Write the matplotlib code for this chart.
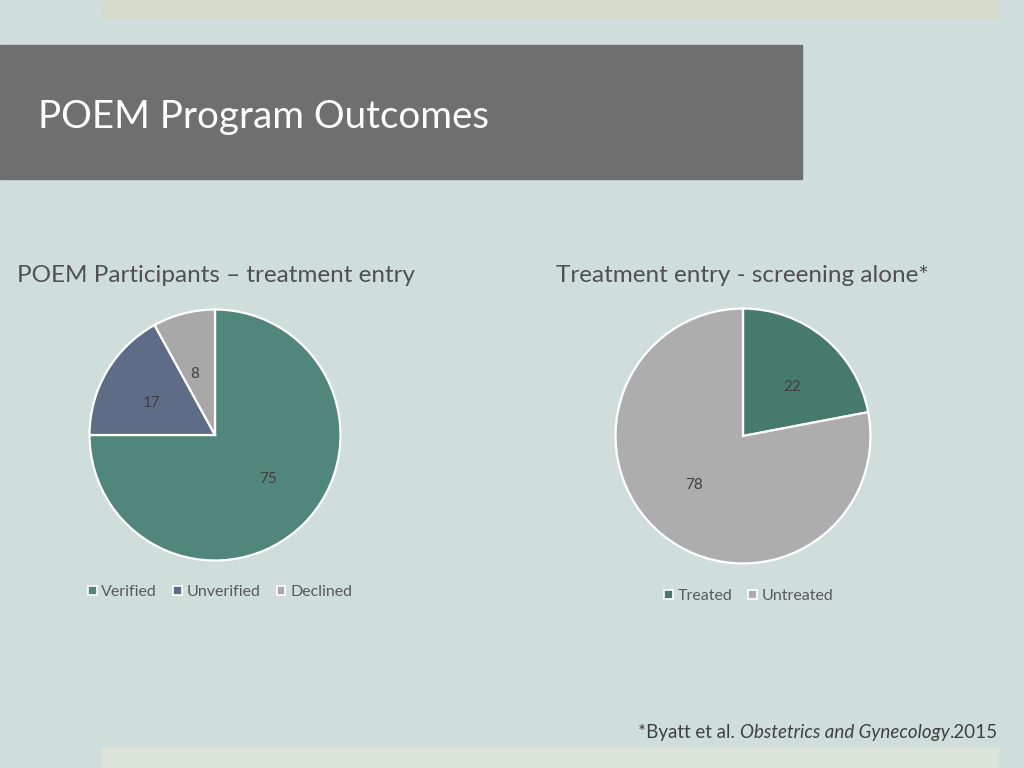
import matplotlib
matplotlib.use("Agg")
import matplotlib.pyplot as plt
from matplotlib.patches import Rectangle, Patch

# data
left_title = "POEM Participants – treatment entry"
left_labels = ["Verified", "Unverified", "Declined"]
left_values = [75, 17, 8]
left_colors = ["#50877A", "#5F6C88", "#A8A8A8"]

right_title = "Treatment entry - screening alone*"
right_labels = ["Treated", "Untreated"]
right_values = [22, 78]
right_colors = ["#467B6B", "#ADADAD"]

W, H = 1024, 768
BG = "#D0DEDB"
FONT = "Lato"

fig = plt.figure(figsize=(W / 100, H / 100), dpi=100, facecolor=BG)


def fx(px):
    return px / W


def fy(py):
    # pixel y measured from top
    return 1 - py / H


def rect(x0, y0, x1, y1, color):
    fig.patches.append(Rectangle((fx(x0), fy(y1)), fx(x1 - x0), (y1 - y0) / H,
                                 transform=fig.transFigure, color=color, zorder=0))


# slide decoration
rect(102, 0, 998, 18, "#D5DBCB")
rect(102, 748, 998, 768, "#DCE4DA")
rect(0, 45, 802, 179, "#6F6F6F")
fig.text(fx(38), fy(117), "POEM Program Outcomes", color="white",
         fontsize=27.7, family=FONT, va="center", ha="left")


def pie_axes(cx, cy, r):
    ax = fig.add_axes([fx(cx - r), fy(cy + r), 2 * r / W, 2 * r / H])
    ax.axis("off")
    return ax


def draw_pie(ax, values, colors):
    wedges, texts = ax.pie(values, colors=colors, startangle=90, counterclock=False,
                           labels=[str(v) for v in values], labeldistance=0.5,
                           radius=1, frame=False,
                           wedgeprops=dict(edgecolor="white", linewidth=1.6),
                           textprops=dict(color="#404040", fontsize=11, family=FONT))
    ax.set_xlim(-1.02, 1.02)
    ax.set_ylim(-1.02, 1.02)
    return wedges


ax1 = pie_axes(215, 435, 128)
draw_pie(ax1, left_values, left_colors)
ax2 = pie_axes(743, 436, 130)
draw_pie(ax2, right_values, right_colors)

# chart titles
fig.text(fx(17), fy(275), left_title, color="#505050", fontsize=17.5,
         family=FONT, va="center", ha="left")
fig.text(fx(556), fy(275), right_title, color="#505050", fontsize=17.5,
         family=FONT, va="center", ha="left")


def legend(labels, colors, cx, cy):
    handles = [Patch(facecolor=c, edgecolor="white", linewidth=1.2, label=l)
               for l, c in zip(labels, colors)]
    fig.legend(handles=handles, loc="center", bbox_to_anchor=(fx(cx), fy(cy)),
               bbox_transform=fig.transFigure, ncol=len(labels), frameon=False,
               handlelength=0.55, handleheight=0.55, handletextpad=0.3,
               columnspacing=1.0, prop=dict(family=FONT, size=11.5),
               labelcolor="#595959")


legend(left_labels, left_colors, 220, 592)
legend(right_labels, right_colors, 749, 596)

# footer citation: regular + italic + regular, right-aligned at x=998
fig.canvas.draw()
renderer = fig.canvas.get_renderer()
parts = [("*Byatt et al. ", "normal"), ("Obstetrics and Gynecology", "italic"), (".2015", "normal")]
x = fx(998)
for txt, style in reversed(parts):
    t = fig.text(x, fy(738), txt, color="#404040", fontsize=13.5, family=FONT,
                 style=style, ha="right", va="baseline")
    bb = t.get_window_extent(renderer=renderer)
    x -= bb.width / W

fig.savefig("out.png", dpi=100, facecolor=BG)
